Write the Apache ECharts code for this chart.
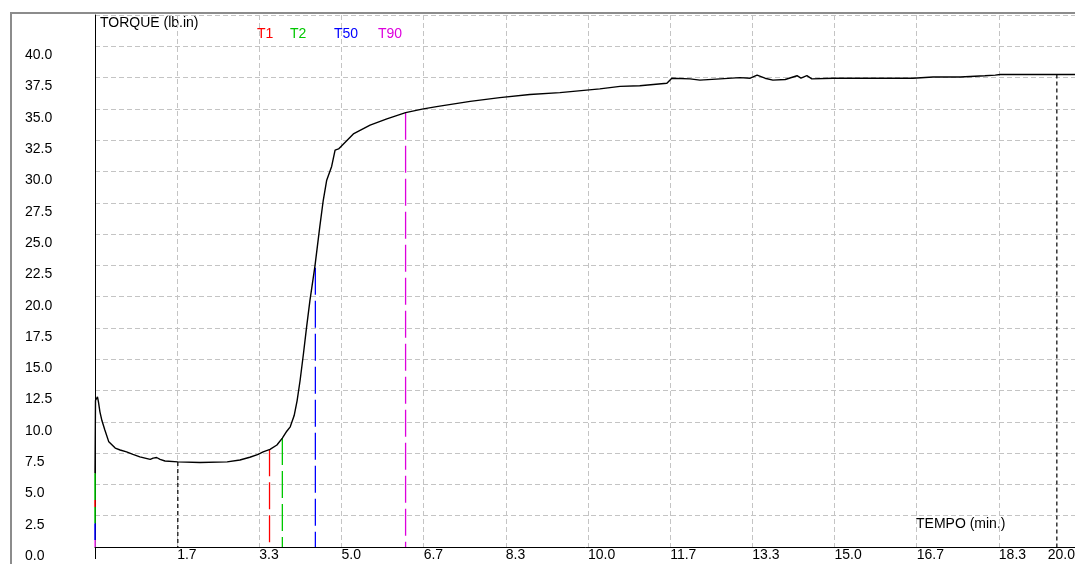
<!DOCTYPE html>
<html>
<head>
<meta charset="utf-8">
<script src="https://cdn.jsdelivr.net/npm/echarts@6/dist/echarts.min.js"></script>
<style>
  html, body { margin: 0; padding: 0; background: #fff; }
  #Reo { width: 1075px; height: 564px; }
</style>
</head>
<body>
<div id="Reo"></div>
<script>
// curva reometrica: tempo (min) x torque (lb.in)
const curveTime = [
  0, 0.01, 0.05, 0.07, 0.10, 0.14, 0.20, 0.28, 0.41, 0.51, 0.64, 0.77, 0.91,
  1.12, 1.18, 1.25, 1.32, 1.42, 1.68, 2.13, 2.68, 2.94, 3.14, 3.31, 3.41, 3.55,
  3.69, 3.80, 3.89, 3.96, 4.04, 4.10, 4.16, 4.23, 4.29, 4.36, 4.46, 4.56, 4.63,
  4.70, 4.80, 4.87, 4.94, 5.04, 5.24, 5.58, 5.92, 6.30, 6.66, 6.96, 7.61, 8.21,
  8.82, 9.43, 10.24, 10.65, 11.05, 11.60, 11.70, 12.07, 12.27, 12.68, 13.08,
  13.29, 13.43, 13.59, 13.75, 14.00, 14.24, 14.32, 14.44, 14.54, 14.97, 16.59,
  17.00, 17.55, 18.05, 18.26, 18.36, 19.51, 19.95
]
const curveTorque = [
  5.9, 11.7, 12.0, 11.6, 10.8, 10.1, 9.35, 8.4, 7.9, 7.75, 7.6, 7.4, 7.2,
  7.0, 7.1, 7.15, 7.0, 6.87, 6.8, 6.75, 6.8, 6.95, 7.17, 7.4, 7.6, 7.8,
  8.15, 8.7, 9.25, 9.6, 10.5, 11.7, 13.3, 15.5, 17.5, 19.7, 22.4, 25.6, 27.7,
  29.3, 30.4, 31.7, 31.8, 32.2, 33.0, 33.7, 34.2, 34.7, 35.0, 35.2, 35.6, 35.9,
  36.15, 36.3, 36.6, 36.8, 36.85, 37.05, 37.45, 37.4, 37.3, 37.4, 37.5,
  37.45, 37.7, 37.45, 37.3, 37.35, 37.65, 37.45, 37.65, 37.4, 37.45, 37.45,
  37.55, 37.55, 37.65, 37.7, 37.75, 37.75, 37.75
]

// marcadores T1, T2, T50, T90
const markNames = ['T1', 'T2', 'T50', 'T90']
const markTimes = [3.54, 3.80, 4.47, 6.30]
const markTorques = [7.8, 8.7, 22.3, 34.7]
const markColors = ['#ff0000', '#00c800', '#0000ff', '#dd00dd']
const markLabelX = [257, 290, 334, 378]

// ML e MH (linhas pretas)
const extremeTimes = [1.68, 19.51]
const extremeTorques = [6.8, 37.75]

// tracos coloridos no inicio (t = 0): [de, ate, cor]
const startFrom = [0, 0.56, 1.9, 3.2, 3.75]
const startTo = [0.56, 1.9, 3.2, 3.75, 5.9]
const startColors = ['#ff40ff', '#0000ff', '#00c800', '#ff0000', '#00c800']

const yMax = 42.5
const yStep = 2.5
const xMaxSec = 1200
const xStepSec = 100

const font = "'Liberation Sans', Arial, sans-serif"
const chartBox = echarts.init(document.getElementById('Reo'))

const series = [
  {
    name: 'torque',
    type: 'line',
    showSymbol: false,
    z: 5,
    lineStyle: { color: '#000', width: 1.4 },
    data: curveTime.map((t, i) => [t * 60, curveTorque[i]])
  }
]

markNames.forEach((n, i) => {
  series.push({
    name: n,
    type: 'line',
    showSymbol: false,
    z: 4,
    lineStyle: { color: markColors[i], width: 1.3, type: [27, 6] },
    data: [[markTimes[i] * 60, markTorques[i]], [markTimes[i] * 60, 0]]
  })
})

extremeTimes.forEach((t, i) => {
  series.push({
    type: 'line',
    showSymbol: false,
    z: 4,
    lineStyle: { color: '#000', width: 1.2, type: [4, 3] },
    data: [[t * 60, extremeTorques[i]], [t * 60, 0]]
  })
})

startFrom.forEach((v, i) => {
  series.push({
    type: 'line',
    showSymbol: false,
    z: 6,
    lineStyle: { color: startColors[i], width: 1.5 },
    data: [[0, v], [0, startTo[i]]]
  })
})

const option = {
  animation: false,
  backgroundColor: '#fff',
  textStyle: { fontFamily: font },
  // area do grafico passa um pouco da borda direita (20.0 fica fora)
  grid: { left: 95, top: 15, bottom: 17, width: 986, containLabel: false, outerBoundsMode: 'none' },
  xAxis: {
    type: 'value',
    min: 0,
    max: xMaxSec,
    interval: xStepSec,
    axisLine: { show: true, onZero: false, lineStyle: { color: '#000', width: 1 } },
    axisTick: { show: false },
    splitLine: { show: true, lineStyle: { color: '#c4c4c4', type: [5, 3] } },
    axisLabel: {
      color: '#000',
      fontSize: 14,
      fontFamily: font,
      margin: 1,
      align: 'left',
      verticalAlign: 'top',
      showMaxLabel: true,
      alignMaxLabel: 'right',
      formatter: function (v) {
        if (v === 0) return ''
        if (v >= xMaxSec) return '{e|' + (v / 60).toFixed(1) + '}'
        return (v / 60).toFixed(1)
      },
      rich: { e: { fontSize: 14, fontFamily: font, color: '#000', padding: [0, 6, 0, 0] } }
    }
  },
  yAxis: {
    type: 'value',
    min: 0,
    max: yMax,
    interval: yStep,
    axisLine: { show: true, lineStyle: { color: '#000', width: 1 } },
    axisTick: { show: false },
    splitLine: { show: true, lineStyle: { color: '#c4c4c4', type: [5, 3] } },
    axisLabel: {
      color: '#000',
      fontSize: 14,
      fontFamily: font,
      margin: 70,
      align: 'left',
      verticalAlign: 'top',
      padding: [2, 0, 0, 0],
      formatter: function (v) {
        return v >= yMax ? '' : v.toFixed(1)
      }
    }
  },
  graphic: [
    {
      type: 'rect',
      shape: { x: 11, y: 13, width: 1200, height: 700 },
      style: { fill: null, stroke: '#8c8c8c', lineWidth: 2 },
      silent: true
    },
    {
      type: 'line',
      shape: { x1: 95.5, y1: 547, x2: 95.5, y2: 559 },
      style: { stroke: '#000', lineWidth: 1 }
    },
    {
      type: 'text',
      left: 100,
      top: 16,
      style: { text: 'TORQUE (lb.in)', fill: '#000', font: '14px ' + font }
    },
    {
      type: 'text',
      left: 916,
      top: 517,
      style: { text: 'TEMPO (min.)', fill: '#000', font: '14px ' + font }
    }
  ].concat(markNames.map((n, i) => ({
    type: 'text',
    left: markLabelX[i],
    top: 27,
    style: { text: n, fill: markColors[i], font: '14px ' + font }
  }))),
  series: series
}

chartBox.setOption(option, true)
</script>
</body>
</html>
